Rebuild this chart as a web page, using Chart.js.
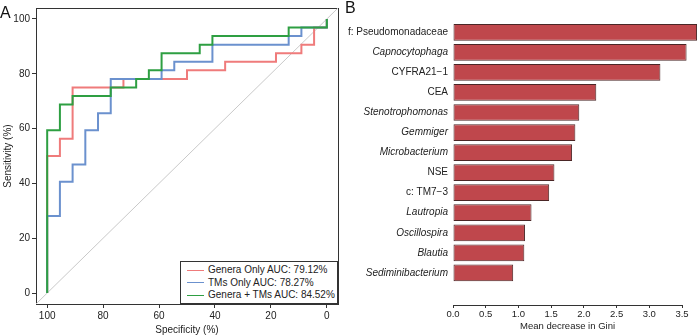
<!DOCTYPE html>
<html lang="en">
<head>
    <meta charset="UTF-8">
    <title>ROC curves and feature importance</title>
    <script src="https://cdn.jsdelivr.net/npm/chart.js"></script>
    <style>
        body {
            margin: 0;
            font-family: "Liberation Sans", Arial, sans-serif;
            background: #fff;
        }
        #wrap {
            position: relative;
            width: 698px;
            height: 336px;
            overflow: hidden;
        }
        canvas {
            position: absolute;
            top: 0;
        }
        .panel {
            position: absolute;
            font-size: 16px;
            line-height: 16px;
            color: #111;
        }
        #rocLegend {
            position: absolute;
            left: 180px;
            top: 261px;
            width: 158px;
            height: 43px;
            box-sizing: border-box;
            border: 1px solid #333;
            background: #fff;
            padding: 2px 0 0 6px;
            font-size: 10px;
            color: #222;
        }
        #rocLegend div {
            height: 12.5px;
            line-height: 12.5px;
            white-space: nowrap;
        }
        #rocLegend span {
            display: inline-block;
            width: 17px;
            height: 1px;
            vertical-align: middle;
            margin-right: 4px;
        }
    </style>
</head>
<body>

<div id="wrap">
    <canvas id="rocChart" width="340" height="336" style="left:0"></canvas>
    <canvas id="giniChart" width="358" height="336" style="left:340px"></canvas>
    <div class="panel" style="left:0; top:5px">A</div>
    <div class="panel" style="left:345px; top:0">B</div>
    <div id="rocLegend"></div>
</div>

<script>
    // Panel A: ROC curves (specificity %, sensitivity %)
    const rocTicks = [0, 20, 40, 60, 80, 100];
    const rocNames = ['Genera Only AUC: 79.12%', 'TMs Only AUC: 78.27%', 'Genera + TMs AUC: 84.52%'];
    const rocColors = ['#EF7B7B', '#6B91CE', '#2E9F42'];

    const generaSpec = [100, 100, 95.45, 95.45, 90.91, 90.91, 72.73, 72.73, 50, 50, 36.36, 36.36, 18.18, 18.18, 9.09, 9.09, 4.55, 4.55, 0, 0];
    const generaSens = [0, 50, 50, 56.25, 56.25, 75, 75, 78.13, 78.13, 81.25, 81.25, 84.38, 84.38, 87.5, 87.5, 90.63, 90.63, 96.88, 96.88, 100];

    const tmsSpec = [100, 100, 95.45, 95.45, 90.91, 90.91, 86.36, 86.36, 81.82, 81.82, 77.27, 77.27, 59.09, 59.09, 54.55, 54.55, 40.91, 40.91, 13.64, 13.64, 9.09, 9.09, 0, 0];
    const tmsSens = [0, 28.13, 28.13, 40.63, 40.63, 46.88, 46.88, 59.38, 59.38, 65.63, 65.63, 78.13, 78.13, 81.25, 81.25, 84.38, 84.38, 90.63, 90.63, 93.75, 93.75, 96.88, 96.88, 100];

    const comboSpec = [100, 100, 95.45, 95.45, 90.91, 90.91, 77.27, 77.27, 68.18, 68.18, 63.64, 63.64, 59.09, 59.09, 45.45, 45.45, 40.91, 40.91, 13.64, 13.64, 0, 0];
    const comboSens = [0, 59.38, 59.38, 68.75, 68.75, 71.88, 71.88, 75, 75, 78.13, 78.13, 81.25, 81.25, 87.5, 87.5, 90.63, 90.63, 93.75, 93.75, 96.88, 96.88, 100];

    const rocMin = -4;
    const rocMax = 104;

    // Panel B: mean decrease in Gini
    const features = ['f: Pseudomonadaceae', 'Capnocytophaga', 'CYFRA21\u22121', 'CEA', 'Stenotrophomonas', 'Gemmiger',
        'Microbacterium', 'NSE', 'c: TM7\u22123', 'Lautropia', 'Oscillospira', 'Blautia', 'Sediminibacterium'];
    const featureItalic = [false, true, false, false, true, true, true, false, false, true, true, true, true];
    const gini = [3.73, 3.57, 3.17, 2.19, 1.93, 1.87, 1.82, 1.55, 1.47, 1.20, 1.10, 1.09, 0.92];
    const giniTicks = [0, 0.5, 1, 1.5, 2, 2.5, 3, 3.5];

    const fontFamily = '"Liberation Sans", Arial, sans-serif';
    const textColor = '#222';
    const axisColor = '#333';

    function toPoints(xs, ys) {
        return xs.map((x, i) => ({ x: x, y: ys[i] }));
    }

    const rocSeries = [
        toPoints(generaSpec, generaSens),
        toPoints(tmsSpec, tmsSens),
        toPoints(comboSpec, comboSens)
    ];

    const rocDatasets = rocSeries.map((pts, i) => ({
        label: rocNames[i],
        data: pts,
        borderColor: rocColors[i],
        borderWidth: 2,
        pointRadius: 0,
        fill: false,
        tension: 0,
        order: 2 - i
    }));
    rocDatasets.push({
        label: 'chance',
        data: [{ x: rocMax, y: rocMin }, { x: rocMin, y: rocMax }],
        borderColor: '#c9c9c9',
        borderWidth: 1,
        pointRadius: 0,
        fill: false,
        order: 5
    });

    const tickFont = { family: fontFamily, size: 10 };
    const smallFont = { family: fontFamily, size: 9.5 };

    new Chart(document.getElementById('rocChart'), {
        type: 'line',
        data: { datasets: rocDatasets },
        options: {
            responsive: false,
            animation: false,
            layout: { padding: 0 },
            plugins: { legend: { display: false }, tooltip: { enabled: false } },
            scales: {
                x: {
                    type: 'linear',
                    reverse: true,
                    min: rocMin,
                    max: rocMax,
                    afterBuildTicks: s => { s.ticks = rocTicks.map(v => ({ value: v })); },
                    afterFit: s => { s.height = 32; },
                    grid: { drawOnChartArea: false, tickLength: 4, color: axisColor },
                    border: { color: axisColor },
                    ticks: { padding: 2, color: textColor, font: tickFont, maxRotation: 0 },
                    title: { display: true, text: 'Specificity (%)', color: textColor, font: tickFont, padding: 0 }
                },
                y: {
                    type: 'linear',
                    min: rocMin,
                    max: rocMax,
                    afterBuildTicks: s => { s.ticks = rocTicks.map(v => ({ value: v })); },
                    afterFit: s => { s.width = 36; },
                    grid: { drawOnChartArea: false, tickLength: 4, color: axisColor },
                    border: { color: axisColor },
                    ticks: { padding: 2, color: textColor, font: tickFont },
                    title: { display: true, text: 'Sensitivity (%)', color: textColor, font: tickFont, padding: { top: 2, bottom: 0 } }
                },
                x2: {
                    type: 'linear',
                    position: 'top',
                    grid: { display: false },
                    ticks: { display: false },
                    border: { display: true, color: axisColor },
                    afterFit: s => { s.height = 3; }
                },
                y2: {
                    type: 'linear',
                    position: 'right',
                    grid: { display: false },
                    ticks: { display: false },
                    border: { display: true, color: axisColor },
                    afterFit: s => { s.width = 2; }
                }
            }
        }
    });

    // HTML legend for panel A, built from the series names and colours
    const legendBox = document.getElementById('rocLegend');
    rocNames.forEach((name, i) => {
        const row = document.createElement('div');
        const swatch = document.createElement('span');
        swatch.style.background = rocColors[i];
        row.appendChild(swatch);
        row.appendChild(document.createTextNode(name));
        legendBox.appendChild(row);
    });

    new Chart(document.getElementById('giniChart'), {
        type: 'bar',
        data: {
            datasets: [{
                label: 'Mean decrease in Gini',
                data: gini.map((g, i) => ({ x: g, y: i })),
                backgroundColor: '#BF474C',
                borderColor: '#4a2626',
                borderWidth: 1,
                borderSkipped: false,
                categoryPercentage: 1,
                barPercentage: 0.835,
                clip: false
            }]
        },
        options: {
            indexAxis: 'y',
            responsive: false,
            animation: false,
            layout: { padding: { top: 8, right: 16, left: 0, bottom: 0 } },
            plugins: { legend: { display: false }, tooltip: { enabled: false } },
            scales: {
                x: {
                    type: 'linear',
                    min: 0,
                    max: 3.5,
                    afterBuildTicks: s => { s.ticks = giniTicks.map(v => ({ value: v })); },
                    afterFit: s => { s.height = 31; },
                    grid: { drawOnChartArea: false, tickLength: 3, color: axisColor },
                    border: { color: axisColor },
                    ticks: { padding: 1, color: textColor, font: smallFont, maxRotation: 0, callback: v => v.toFixed(1) },
                    title: { display: true, text: 'Mean decrease in Gini', color: textColor, font: smallFont, padding: { top: 0, bottom: 4 } }
                },
                y: {
                    type: 'linear',
                    reverse: true,
                    min: -0.5,
                    max: 13.04,
                    afterBuildTicks: s => { s.ticks = features.map((f, i) => ({ value: i })); },
                    afterFit: s => { s.width = 113; },
                    grid: { display: false, drawTicks: false },
                    border: { display: false },
                    ticks: {
                        autoSkip: false,
                        padding: 5,
                        color: textColor,
                        callback: v => features[v],
                        font: ctx => ({
                            family: fontFamily,
                            size: 10,
                            style: featureItalic[ctx.tick ? ctx.tick.value : ctx.index] ? 'italic' : 'normal'
                        })
                    }
                }
            }
        }
    });
</script>

</body>
</html>
